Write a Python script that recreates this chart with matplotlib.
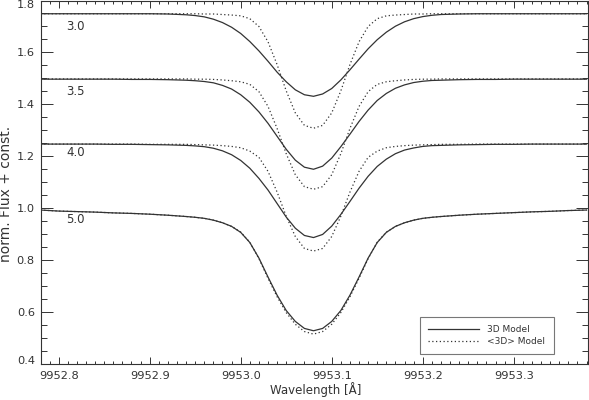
import matplotlib
matplotlib.use("Agg")
import matplotlib.pyplot as plt
from matplotlib.ticker import MultipleLocator, FormatStrFormatter

# line profiles of one line for four log g values
# (shifted by a constant for each log g)
wave = [9952.78, 9952.80, 9952.82, 9952.84, 9952.86, 9952.88, 9952.90, 9952.92,
        9952.94, 9952.95, 9952.96, 9952.97, 9952.98, 9952.99, 9953.00, 9953.01,
        9953.02, 9953.03, 9953.04, 9953.05, 9953.06, 9953.07, 9953.08, 9953.09,
        9953.10, 9953.11, 9953.12, 9953.13, 9953.14, 9953.15, 9953.16, 9953.17,
        9953.18, 9953.19, 9953.20, 9953.21, 9953.22,
        9953.24, 9953.26, 9953.28, 9953.30, 9953.32, 9953.34, 9953.36, 9953.38]

logg_labels = ["3.0", "3.5", "4.0", "5.0"]

flux_3d_30 = [1.749, 1.749, 1.749, 1.749, 1.749, 1.749, 1.749, 1.748,
              1.745, 1.742, 1.737, 1.728, 1.715, 1.697, 1.673, 1.642,
              1.606, 1.566, 1.524, 1.487, 1.456, 1.437, 1.431, 1.440,
              1.461, 1.494, 1.533, 1.574, 1.614, 1.649, 1.678, 1.701,
              1.718, 1.730, 1.738, 1.743, 1.746,
              1.748, 1.749, 1.749, 1.749, 1.749, 1.749, 1.749, 1.749]
flux_1d_30 = [1.749, 1.749, 1.749, 1.749, 1.749, 1.749, 1.749, 1.749,
              1.749, 1.749, 1.748, 1.748, 1.746, 1.744, 1.741, 1.730,
              1.700, 1.641, 1.553, 1.452, 1.367, 1.319, 1.308, 1.319,
              1.367, 1.452, 1.553, 1.641, 1.700, 1.730, 1.741, 1.744,
              1.746, 1.748, 1.748, 1.749, 1.749,
              1.749, 1.749, 1.749, 1.749, 1.749, 1.749, 1.749, 1.749]

flux_3d_35 = [1.497, 1.497, 1.497, 1.497, 1.497, 1.496, 1.496, 1.495,
              1.493, 1.491, 1.488, 1.483, 1.473, 1.459, 1.437, 1.408,
              1.371, 1.327, 1.277, 1.227, 1.185, 1.158, 1.150, 1.162,
              1.193, 1.237, 1.285, 1.334, 1.378, 1.415, 1.442, 1.462,
              1.475, 1.484, 1.489, 1.492, 1.493,
              1.495, 1.496, 1.496, 1.497, 1.497, 1.497, 1.497, 1.497]
flux_1d_35 = [1.498, 1.498, 1.498, 1.498, 1.498, 1.498, 1.498, 1.498,
              1.498, 1.497, 1.497, 1.496, 1.494, 1.491, 1.487, 1.477,
              1.449, 1.392, 1.307, 1.210, 1.129, 1.083, 1.073, 1.083,
              1.129, 1.210, 1.307, 1.392, 1.449, 1.477, 1.487, 1.491,
              1.494, 1.496, 1.497, 1.497, 1.498,
              1.498, 1.498, 1.498, 1.498, 1.498, 1.498, 1.498, 1.498]

flux_3d_40 = [1.247, 1.247, 1.247, 1.247, 1.246, 1.246, 1.245, 1.244,
              1.242, 1.240, 1.237, 1.231, 1.221, 1.206, 1.184, 1.154,
              1.115, 1.070, 1.018, 0.966, 0.923, 0.895, 0.887, 0.899,
              0.931, 0.976, 1.026, 1.077, 1.123, 1.161, 1.189, 1.210,
              1.224, 1.232, 1.238, 1.241, 1.242,
              1.244, 1.245, 1.246, 1.246, 1.247, 1.247, 1.247, 1.247]
flux_1d_40 = [1.247, 1.247, 1.247, 1.247, 1.247, 1.247, 1.246, 1.246,
              1.246, 1.245, 1.244, 1.243, 1.241, 1.238, 1.233, 1.220,
              1.196, 1.142, 1.062, 0.969, 0.891, 0.845, 0.835, 0.845,
              0.891, 0.969, 1.062, 1.142, 1.196, 1.220, 1.233, 1.238,
              1.241, 1.243, 1.244, 1.245, 1.246,
              1.246, 1.247, 1.247, 1.247, 1.247, 1.247, 1.247, 1.247]

flux_3d_50 = [0.993, 0.989, 0.987, 0.985, 0.982, 0.980, 0.977, 0.973,
              0.968, 0.965, 0.961, 0.954, 0.944, 0.930, 0.907, 0.868,
              0.808, 0.735, 0.665, 0.606, 0.564, 0.537, 0.528, 0.537,
              0.564, 0.606, 0.665, 0.735, 0.808, 0.868, 0.907, 0.930,
              0.944, 0.954, 0.961, 0.965, 0.968,
              0.973, 0.977, 0.980, 0.983, 0.986, 0.988, 0.991, 0.993]
flux_1d_50 = [0.993, 0.989, 0.987, 0.985, 0.982, 0.980, 0.977, 0.973,
              0.968, 0.965, 0.961, 0.954, 0.944, 0.930, 0.908, 0.869,
              0.806, 0.730, 0.659, 0.598, 0.553, 0.525, 0.515, 0.525,
              0.553, 0.598, 0.659, 0.730, 0.806, 0.869, 0.908, 0.930,
              0.944, 0.954, 0.961, 0.965, 0.968,
              0.973, 0.977, 0.980, 0.983, 0.986, 0.988, 0.991, 0.993]

profiles_3d = [flux_3d_30, flux_3d_35, flux_3d_40, flux_3d_50]
profiles_1d = [flux_1d_30, flux_1d_35, flux_1d_40, flux_1d_50]
label_y = [1.698, 1.450, 1.216, 0.955]

ink = "#333333"
plt.rcParams["font.family"] = "DejaVu Sans"

fig = plt.figure(figsize=(5.89, 4.0), dpi=100)
ax = fig.add_axes([41/589, 36/400, 546.5/589, 363.5/400])

for i in range(len(logg_labels)):
    l1, = ax.plot(wave, profiles_3d[i], color=ink, lw=0.9, ls="-")
    l2, = ax.plot(wave, profiles_1d[i], color=ink, lw=0.9, ls=(0, (1, 2)))
    ax.text(9952.808, label_y[i], logg_labels[i], fontsize=8.5, color=ink,
            ha="left", va="center")

ax.set_xlim(9952.7806, 9953.381)
ax.set_ylim(0.4, 1.8)

ax.xaxis.set_major_locator(MultipleLocator(0.1))
ax.xaxis.set_minor_locator(MultipleLocator(0.01))
ax.yaxis.set_major_locator(MultipleLocator(0.2))
ax.yaxis.set_minor_locator(MultipleLocator(0.05))
ax.xaxis.set_major_formatter(FormatStrFormatter("%.1f"))
ax.yaxis.set_major_formatter(FormatStrFormatter("%.1f"))

# IDL style ticks: inside, on all four sides
ax.tick_params(which="both", direction="in", top=True, right=True,
               color=ink, width=0.7, labelcolor=ink, labelsize=8.2)
ax.tick_params(axis="x", which="major", length=5.2, pad=5)
ax.tick_params(axis="x", which="minor", length=2.5)
ax.tick_params(axis="y", which="major", length=8.6, pad=4.5)
ax.tick_params(axis="y", which="minor", length=4.3)
for s in ax.spines.values():
    s.set_color(ink)
    s.set_linewidth(0.8)

fig.text(316/589, 1 - 390/400, "Wavelength [Å]", fontsize=8.5, color=ink,
         ha="center", va="center")
fig.text(6.5/589, 1 - 194/400, "norm. Flux + const.", fontsize=10, color=ink,
         ha="center", va="center", rotation=90)

leg = ax.legend([l1, l2], ["3D Model", "<3D> Model"], loc="lower right",
                bbox_to_anchor=(0.938, 0.0266), borderaxespad=0,
                fontsize=6.5, fancybox=False, handlelength=5.7,
                handletextpad=0.9, borderpad=0.9, labelspacing=0.35)
leg.get_frame().set_edgecolor("#555555")
leg.get_frame().set_linewidth(0.8)
for t in leg.get_texts():
    t.set_color(ink)

# keep the end labels of the y axis inside the figure, as in the original
fig.canvas.draw()
for tk in ax.yaxis.get_major_ticks():
    if abs(tk.get_loc() - 1.8) < 1e-6:
        tk.label1.set_verticalalignment("top")
    if abs(tk.get_loc() - 0.4) < 1e-6:
        tk.label1.set_verticalalignment("baseline")

plt.savefig("out.png", dpi=100)
